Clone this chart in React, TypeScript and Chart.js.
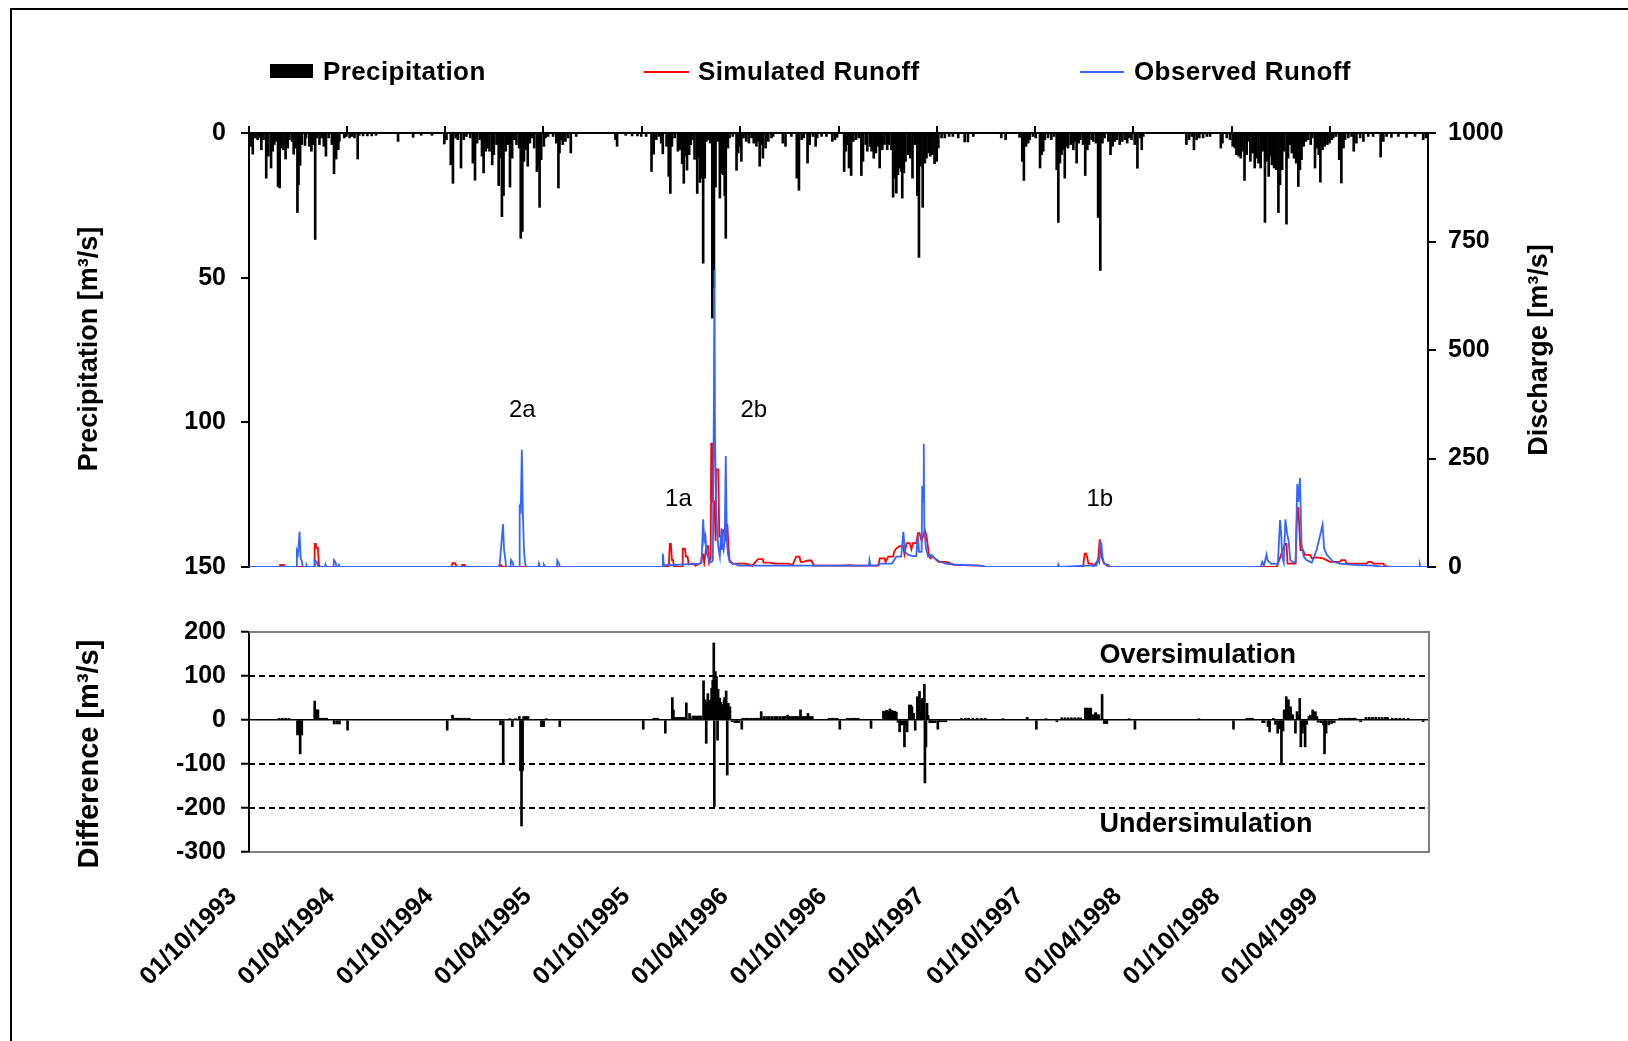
import React, { useEffect, useRef } from "react";
import { Chart, registerables } from "chart.js";
Chart.register(...registerables);

// ---------- data (day index counted from 01/10/1993) ----------
const DAYS_TOTAL = 2191;
const dateTickDays = [0, 182, 365, 547, 730, 913, 1096, 1278, 1461, 1643, 1826, 2008];
const dateTickLabels = [
  "01/10/1993", "01/04/1994", "01/10/1994", "01/04/1995", "01/10/1995", "01/04/1996",
  "01/10/1996", "01/04/1997", "01/10/1997", "01/04/1998", "01/10/1998", "01/04/1999",
];
const precipMax = 150;
const dischargeMax = 1000;
const differenceMin = -300;
const differenceMax = 200;
const thresholdLines = [100, -100, -200];

// precipitation [day, value]
const precipitation: [number, number][] = [
  [3,4.6],[7,7.3],[12,1.7],[16,2.3],[21,1.7],[23,5.8],[27,2.3],[32,15.6],[36,8],[41,12.1],[44,6.3],[47,4],[50,2.9],[54,18.5],[57,19],[60,5.2],[64,5.8],[68,9],[72,5.2],[75,2.3],[80,2.9],[83,7.3],[86,5.2],[90,27.5],[92,17.9],[95,11.2],[98,4],[104,4.3],[106,1.7],[112,4.6],[116,6.3],[119,4],[123,36.8],[126,1.7],[131,4],[135,1.7],[139,4.6],[143,8],[148,1.7],[154,4],[158,14.1],[162,9],[166,5.8],[168,2.9],[177,1.7],[181,1.2],[187,1.7],[191,1.2],[196,1.7],[202,9],[205,0.8],[212,1],[220,1],[228,1],[236,0.8],[277,2.9],[305,1.5],[320,0.8],[340,0.8],
  [363,3.8],[367,2.3],[375,11],[379,17.4],[384,1.7],[388,2.3],[394,12.1],[399,2.3],[404,1.2],[411,1.7],[416,10.4],[420,16.3],[424,3.5],[429,2.3],[433,8],[436,13.8],[440,6.3],[443,5.2],[447,6.3],[452,11],[455,7.5],[460,4],[464,18.2],[467,8.7],[470,28.9],[473,21.6],[477,6.3],[481,4],[485,18.7],[489,8.7],[493,2.3],[497,4],[502,5.2],[505,36.4],[508,34],[511,9.8],[514,5.8],[518,11.5],[522,3.5],[526,1.7],[530,5.2],[535,13.3],[538,11.5],[540,25.7],[543,9.2],[548,4.6],[551,1.7],[556,1.2],[565,1.2],[571,3.5],[575,19],[577,6.9],[580,2.3],[583,4],[588,2.9],[593,1.7],[598,6.9],[608,1.2],[681,2.3],[684,4.6],[700,0.8],[712,1],[722,1],
  [729,1.2],[738,1.2],[748,13.3],[752,7.3],[757,2.3],[762,1.2],[766,3.5],[769,7.2],[776,4.6],[780,15],[783,20.9],[786,4.6],[791,1.7],[797,6.3],[801,5.8],[805,10.6],[808,17.4],[811,8],[814,12.8],[818,7.5],[821,4],[824,2.3],[828,9.1],[833,20.9],[835,8.7],[838,17.1],[841,15.6],[844,45],[847,15.6],[850,2.9],[853,2.3],[857,3.5],[861,64],[864,53.7],[867,18.7],[871,2.9],[875,22.5],[878,13.8],[881,14.4],[884,21.6],[886,36.4],[890,5.2],[893,1.7],[899,1.2],[906,12.9],[909,6.9],[912,4.6],[915,9.8],[919,1.7],[924,2.9],[929,3.5],[934,1.7],[938,3.5],[943,4.6],[946,2.9],[949,11.5],[952,4],[955,8.7],[960,5.2],[965,2.9],[971,1.7],[974,1.2],[992,3.5],[997,4.6],[1008,1.2],[1018,15.6],[1022,19.8],[1027,2.3],[1031,1.7],[1038,10.4],[1042,4],[1048,1.2],[1053,4.6],[1056,1.7],[1064,1.2],[1073,1.2],[1084,2.9],[1089,2.3],[1093,1.5],
  [1106,13.3],[1109,6.3],[1112,4],[1115,12.1],[1119,14.7],[1123,2.9],[1128,2.3],[1133,1.7],[1138,14.7],[1141,9.8],[1146,4],[1149,6.3],[1154,4.6],[1157,6.3],[1161,8.7],[1165,6.9],[1169,4.6],[1172,12.1],[1177,5.8],[1181,4],[1186,5.8],[1189,4],[1194,5.8],[1197,22.2],[1200,15.6],[1203,20.8],[1206,14.4],[1209,12.1],[1212,13.3],[1214,22.5],[1217,13.8],[1220,9.8],[1225,7.5],[1229,8.7],[1233,15.6],[1237,4],[1242,21.6],[1245,43],[1248,11.5],[1252,25.7],[1256,10.4],[1259,8.7],[1263,6.9],[1266,8],[1270,7.5],[1274,10.6],[1278,9.8],[1281,5.2],[1287,1.7],[1293,1.7],[1301,1.2],[1308,1.2],[1318,1.7],[1330,3.1],[1336,3.1],[1346,1.2],[1398,1.7],[1406,2.3],[1432,1.5],
  [1437,9.8],[1440,16.4],[1444,4.6],[1448,3.5],[1451,2.3],[1457,1.2],[1462,1.7],[1470,12.1],[1473,7.5],[1476,6.3],[1479,2.3],[1485,1.7],[1491,2.3],[1496,1.2],[1501,12.7],[1504,30.9],[1507,10.4],[1510,7.5],[1513,5.8],[1516,15.6],[1519,4.6],[1522,5.2],[1527,4],[1532,5.8],[1535,2.9],[1538,10.4],[1542,3.5],[1545,2.3],[1550,4],[1554,14.7],[1558,5.8],[1561,4],[1566,2.3],[1569,2.9],[1574,3.5],[1578,29.2],[1582,47.5],[1586,3.5],[1590,1.7],[1597,2.9],[1601,7.5],[1605,4.6],[1609,2.9],[1613,2.3],[1618,4],[1623,2.9],[1628,2.3],[1632,3.5],[1636,1.7],[1640,2.3],[1646,4],[1651,12.2],[1656,1.7],[1659,5.8],[1662,1.2],
  [1742,4],[1747,2.3],[1752,1.2],[1756,5.8],[1761,2.3],[1766,1.7],[1773,1.7],[1780,1.2],[1786,1.2],[1806,5.2],[1809,3.5],[1817,1.7],[1823,2.3],[1828,4.6],[1832,5.2],[1835,7.5],[1839,8],[1843,8.7],[1846,6.3],[1850,16.4],[1854,7.5],[1857,2.9],[1861,9.8],[1865,6.9],[1869,12.1],[1872,8.7],[1876,10.4],[1880,12.1],[1884,6.3],[1888,30.9],[1891,9.8],[1895,15],[1898,8],[1901,11],[1905,12.1],[1909,12.7],[1913,27.5],[1916,17.9],[1920,12.7],[1923,6.3],[1928,31.5],[1931,8.7],[1934,4],[1938,6.9],[1942,8.7],[1946,10.4],[1950,18.5],[1953,12.7],[1956,9.2],[1960,4.6],[1964,2.9],[1968,2.3],[1973,4],[1976,1.7],[1981,12.1],[1984,5.2],[1988,7.5],[1991,17],[1995,5.8],[1999,4.6],[2004,4],[2008,3.5],[2012,2.3],[2015,1.7],[2020,1.2],[2026,9.2],[2030,17.3],[2034,5.2],[2037,2.3],[2043,1.7],[2049,1.2],[2053,6.3],[2058,3.5],[2065,1.7],[2071,2.9],[2080,1.2],[2089,1.2],[2103,8.3],[2108,2.9],[2114,1.2],[2123,1.5],[2136,1.2],[2151,1.5],[2167,1.2],[2182,2.3],[2187,1.7],
];

// observed runoff [day, m3/s]
const observedRunoff: [number, number][] = [
  [0,0],[88,0],[89,37],[91,30],[94,81],[96,20],[98,14],[100,0],[106,0],[107,5],[109,0],[121,0],[122,16],[126,12],[128,0],[141,0],[142,5],[143,0],[157,0],[158,16],[161,10],[163,0],[166,0],[167,8],[168,0],
  [464,0],[466,8],[469,53],[472,99],[474,40],[476,21],[478,0],[486,0],[487,16],[490,10],[492,0],[502,0],[503,137],[505,130],[507,270],[509,120],[511,37],[513,10],[515,0],[538,0],[539,8],[541,0],[547,0],[548,5],[550,0],[572,0],[573,15],[576,8],[578,0],
  [768,0],[769,31],[771,3],[782,6],[785,4],[808,6],[838,8],[841,10],[844,110],[846,60],[848,72],[851,30],[853,24],[856,10],[860,12],[862,15],[864,400],[865,685],[866,300],[868,151],[870,80],[872,48],[875,24],[878,89],[880,50],[882,39],[884,60],[886,256],[888,60],[890,31],[893,12],[899,7],[905,7],[909,3],[960,3],[1050,3],[1120,3],[1152,3],[1153,16],[1155,3],
  [1165,3],[1172,8],[1195,8],[1203,24],[1212,24],[1216,81],[1219,35],[1225,28],[1234,25],[1240,25],[1243,74],[1245,35],[1250,35],[1251,187],[1253,150],[1254,284],[1255,85],[1258,43],[1262,24],[1268,28],[1274,20],[1284,12],[1296,7],[1321,5],[1358,3],[1370,0],
  [1503,0],[1504,6],[1506,0],[1553,3],[1575,3],[1577,16],[1580,10],[1582,55],[1584,55],[1586,24],[1589,8],[1597,5],[1600,0],
  [1880,0],[1883,12],[1886,3],[1891,29],[1893,15],[1900,7],[1912,7],[1916,108],[1918,80],[1920,24],[1923,10],[1926,110],[1929,78],[1932,60],[1935,16],[1941,10],[1945,12],[1948,191],[1950,150],[1953,205],[1956,53],[1960,24],[1965,16],[1975,10],[1984,39],[1990,70],[1995,97],[1998,43],[2003,28],[2009,20],[2015,12],[2027,8],[2052,5],[2089,3],[2110,0],[2175,0],[2176,5],[2177,0],[2191,0],
];

// simulated runoff [day, m3/s]
const simulatedRunoff: [number, number][] = [
  [0,0],[57,0],[58,5],[65,5],[66,0],[121,0],[122,53],[124,53],[125,44],[128,44],[130,4],[133,0],
  [377,0],[378,9],[383,9],[385,3],[386,0],[395,0],[396,5],[401,5],[402,0],[465,0],[466,4],[469,4],[470,0],
  [780,0],[782,53],[784,53],[786,16],[788,16],[790,0],[805,0],[806,42],[810,42],[812,24],[815,24],[817,6],[824,8],[830,3],[840,10],[842,29],[844,29],[846,10],[850,48],[853,48],[855,10],[858,20],[859,284],[861,284],[862,151],[865,151],[867,60],[868,225],[872,225],[874,70],[877,70],[879,40],[881,85],[884,85],[886,60],[887,97],[889,97],[891,47],[893,16],[899,8],[912,8],[915,8],[923,8],[935,3],[946,18],[955,18],[956,10],[968,10],[977,8],[986,8],[992,8],[1002,8],[1010,4],[1017,24],[1023,24],[1025,12],[1030,12],[1039,15],[1045,15],[1050,3],[1100,3],[1119,4],[1122,3],
  [1170,3],[1172,20],[1181,20],[1183,12],[1188,24],[1197,24],[1199,35],[1203,43],[1209,48],[1216,48],[1218,30],[1222,55],[1228,55],[1231,41],[1234,55],[1240,55],[1243,78],[1246,78],[1250,60],[1256,85],[1259,72],[1263,33],[1266,20],[1271,24],[1281,12],[1296,12],[1310,5],[1360,3],[1370,0],
  [1550,0],[1553,31],[1556,31],[1558,20],[1560,8],[1566,8],[1570,2],[1578,16],[1581,64],[1584,24],[1589,8],[1595,3],[1600,0],
  [1910,0],[1925,53],[1928,53],[1930,8],[1945,8],[1947,101],[1950,138],[1954,39],[1959,39],[1962,28],[1972,28],[1975,20],[1984,22],[1996,20],[2009,12],[2027,12],[2030,16],[2037,16],[2040,8],[2077,8],[2080,12],[2086,12],[2089,8],[2108,8],[2110,3],[2120,0],[2191,0],
];

// difference simulated - observed [day, m3/s]
const difference: [number, number][] = [
  [56,4],[62,4],[68,4],[74,4],[90,-34],[93,-30],[95,-77],[98,-34],[122,43],[125,23],[128,23],[131,4],[135,4],[140,4],[144,4],[158,-9],[163,-9],[168,-9],[183,-23],
  [368,-23],[378,11],[382,4],[386,4],[390,4],[395,4],[400,4],[405,4],[409,4],[467,-11],[472,-97],[484,3],[489,-15],[495,3],[502,8],[504,-115],[506,-241],[508,-115],[510,8],[514,8],[518,8],[543,-15],[547,-15],[552,3],[577,-15],
  [732,-21],[752,4],[756,4],[759,4],[773,-30],[786,51],[788,23],[790,6],[794,6],[798,6],[802,6],[806,6],[810,6],[812,39],[818,15],[824,9],[828,9],[832,9],[836,9],[839,9],[844,89],[847,46],[849,-53],[851,40],[852,60],[854,30],[856,45],[859,72],[861,90],[863,175],[864,-197],[866,110],[868,99],[870,-46],[871,70],[873,46],[874,50],[876,40],[878,19],[880,35],[882,45],[883,51],[886,66],[888,-125],[890,38],[893,30],[897,-4],[902,-6],[906,-6],[909,-6],[915,-21],[917,4],[922,4],[927,4],[932,4],[937,4],[942,4],[946,4],[951,19],[956,8],[961,8],[966,8],[971,8],[976,8],[981,8],[986,8],[991,8],[995,8],[1000,11],[1004,8],[1008,8],[1012,8],[1016,8],[1020,8],[1024,23],[1028,8],[1032,8],[1035,8],[1038,15],[1042,8],[1046,8],
  [1077,4],[1082,4],[1087,4],[1092,4],[1097,-21],[1111,4],[1116,4],[1121,4],[1126,4],[1131,4],[1155,-19],
  [1178,20],[1181,20],[1184,22],[1187,20],[1190,25],[1193,22],[1196,20],[1199,20],[1202,18],[1205,-5],[1208,-27],[1210,-11],[1213,-11],[1217,-61],[1219,-11],[1222,-27],[1226,34],[1229,34],[1231,30],[1234,15],[1237,-23],[1241,53],[1243,30],[1245,65],[1247,20],[1249,49],[1251,40],[1253,30],[1254,81],[1255,-143],[1257,-61],[1259,38],[1261,10],[1264,-6],[1267,-6],[1270,-6],[1274,-6],[1279,-21],[1282,-4],[1286,-4],[1290,-4],[1294,-4],
  [1323,4],[1330,4],[1336,4],[1344,4],[1352,4],[1360,4],[1367,4],[1400,3],[1445,6],[1462,-21],[1480,3],[1500,-4],[1509,5],[1515,5],[1521,5],[1527,5],[1533,5],[1539,5],[1544,5],[1553,27],[1556,27],[1559,27],[1563,27],[1566,12],[1569,12],[1572,17],[1575,12],[1578,12],[1584,58],[1588,-8],[1591,-8],[1593,-8],[1634,3],[1645,-21],[1764,3],[1828,-21],[1853,4],[1858,4],[1863,4],
  [1882,-6],[1885,-6],[1892,-15],[1895,-27],[1902,4],[1906,-10],[1910,-30],[1914,-20],[1917,-102],[1920,-25],[1922,23],[1926,53],[1930,46],[1934,30],[1938,12],[1943,-30],[1946,19],[1948,10],[1951,49],[1953,-61],[1956,-30],[1958,-15],[1961,-61],[1964,-10],[1968,8],[1971,11],[1975,23],[1978,8],[1980,19],[1983,8],[1985,-5],[1990,-6],[1995,-11],[1997,-77],[2000,-30],[2005,-11],[2010,-8],[2015,-6],[2025,4],[2030,4],[2035,4],[2040,4],[2045,4],[2050,4],[2054,4],[2064,-4],[2074,6],[2080,6],[2086,6],[2092,6],[2098,6],[2104,6],[2110,6],[2114,6],[2123,4],[2130,4],[2137,4],[2144,4],[2152,4],[2180,-4],
];

// event labels [text, day, discharge]
const eventLabels: [string, number, number][] = [
  ["2a", 508, 362], ["2b", 938, 362], ["1a", 798, 155], ["1b", 1581, 155],
];
// region labels in difference panel [text, day, difference]
const regionLabels: [string, number, number][] = [
  ["Oversimulation", 1579, 146], ["Undersimulation", 1579, -237],
];

const FONT = '"Liberation Sans", Arial, Helvetica, sans-serif';
const BLUE = "#3366ff";
const RED = "#ff0000";

const overlayPlugin = {
  id: "overlays",
  beforeDatasetsDraw(chart: any, _a: any, opts: any) {
    const { ctx, chartArea, scales } = chart;
    if (opts.thresholds) {
      ctx.save();
      ctx.strokeStyle = "#000";
      ctx.lineWidth = 2;
      ctx.setLineDash([6, 4]);
      for (const v of opts.thresholds) {
        const y = Math.round(scales.y.getPixelForValue(v));
        ctx.beginPath();
        ctx.moveTo(chartArea.left, y);
        ctx.lineTo(chartArea.right, y);
        ctx.stroke();
      }
      ctx.restore();
    }
  },
  afterDatasetsDraw(chart: any, _a: any, opts: any) {
    const { ctx, chartArea, scales } = chart;
    ctx.save();
    if (opts.frame) {
      ctx.strokeStyle = "#808080";
      ctx.lineWidth = 2;
      ctx.beginPath();
      ctx.moveTo(chartArea.left, chartArea.top);
      ctx.lineTo(chartArea.right, chartArea.top);
      ctx.lineTo(chartArea.right, chartArea.bottom);
      ctx.stroke();
    }
    if (opts.texts) {
      ctx.fillStyle = "#000";
      ctx.font = opts.font;
      ctx.textAlign = opts.align;
      ctx.textBaseline = "middle";
      for (const [t, d, v] of opts.texts) {
        ctx.fillText(t, scales.x.getPixelForValue(d), scales[opts.yAxis].getPixelForValue(v));
      }
    }
    ctx.restore();
  },
};

const toXY = (arr: [number, number][]) => arr.map(([x, y]) => ({ x, y }));
const tickFont = { family: FONT, size: 25, weight: "bold" };

function TopChart() {
  const ref = useRef<HTMLCanvasElement>(null);
  useEffect(() => {
    const chart = new Chart(ref.current!, {
      type: "bar",
      data: {
        datasets: [
          { type: "bar", label: "Precipitation", data: toXY(precipitation) as any, backgroundColor: "#000", barThickness: 2, xAxisID: "x", yAxisID: "yP", order: 2 },
          { type: "line", label: "Observed Runoff", data: toXY(observedRunoff) as any, borderColor: BLUE, borderWidth: 1.8, pointRadius: 0, tension: 0, borderJoinStyle: "miter", xAxisID: "x", yAxisID: "yQ", order: 0 },
          { type: "line", label: "Simulated Runoff", data: toXY(simulatedRunoff) as any, borderColor: RED, borderWidth: 1.8, pointRadius: 0, tension: 0, borderJoinStyle: "miter", xAxisID: "x", yAxisID: "yQ", order: 1 },
        ],
      },
      options: {
        animation: false,
        responsive: false,
        events: [],
        layout: { padding: { left: 0, right: 0, top: 126, bottom: 33 } },
        plugins: {
          legend: { display: false },
          tooltip: { enabled: false },
          overlays: { texts: eventLabels, font: `24px ${FONT}`, align: "center", yAxis: "yQ" },
        } as any,
        scales: {
          x: {
            type: "linear", position: "top", min: 0, max: DAYS_TOTAL, offset: false,
            afterBuildTicks: (s: any) => { s.ticks = dateTickDays.map((v) => ({ value: v })); },
            afterFit: (s: any) => { s.height = 7; },
            ticks: { display: false },
            grid: { drawOnChartArea: false, drawTicks: true, tickLength: 7, color: "#000", lineWidth: 2, offset: false },
            border: { display: true, color: "#000", width: 2 },
          },
          yP: {
            type: "linear", position: "left", reverse: true, min: 0, max: precipMax,
            ticks: { stepSize: 50, color: "#000", font: tickFont, padding: 15, callback: (v: any) => String(v) },
            afterFit: (s: any) => { s.width = 249; },
            grid: { drawOnChartArea: false, tickLength: 8, color: "#000", lineWidth: 2 },
            border: { display: true, color: "#000", width: 2 },
          },
          yQ: {
            type: "linear", position: "right", min: 0, max: dischargeMax,
            ticks: { stepSize: 250, color: "#000", font: tickFont, padding: 12, callback: (v: any) => String(v) },
            afterFit: (s: any) => { s.width = 200; },
            grid: { drawOnChartArea: false, tickLength: 8, color: "#000", lineWidth: 2 },
            border: { display: true, color: "#000", width: 2 },
          },
        },
      } as any,
      plugins: [overlayPlugin as any],
    });
    return () => chart.destroy();
  }, []);
  return <canvas ref={ref} width={1628} height={600} style={{ position: "absolute", left: 0, top: 0, width: 1628, height: 600 }} />;
}

function BottomChart() {
  const ref = useRef<HTMLCanvasElement>(null);
  useEffect(() => {
    const chart = new Chart(ref.current!, {
      type: "bar",
      data: {
        datasets: [
          { type: "bar", label: "Difference", data: toXY(difference) as any, backgroundColor: "#000", barThickness: 2, xAxisID: "x", yAxisID: "y" },
        ],
      },
      options: {
        animation: false,
        responsive: false,
        events: [],
        layout: { padding: { left: 0, right: 199, top: 32, bottom: 0 } },
        plugins: {
          legend: { display: false },
          tooltip: { enabled: false },
          overlays: { frame: true, thresholds: thresholdLines, texts: regionLabels, font: `bold 27px ${FONT}`, align: "left", yAxis: "y" },
        } as any,
        scales: {
          x: {
            type: "linear", position: "bottom", min: 0, max: DAYS_TOTAL, offset: false,
            afterBuildTicks: (s: any) => { s.ticks = dateTickDays.map((v) => ({ value: v })); },
            afterFit: (s: any) => { s.height = 189; },
            ticks: {
              autoSkip: false, minRotation: 45, maxRotation: 45, padding: 30, labelOffset: -16,
              color: "#000", font: { family: FONT, size: 25, weight: "bold" },
              callback: (v: any) => { const i = dateTickDays.indexOf(Number(v)); return i >= 0 ? dateTickLabels[i] : ""; },
            },
            grid: { display: false, drawTicks: false, offset: false },
            border: { display: true, color: "#808080", width: 2 },
          },
          y: {
            type: "linear", position: "left", min: differenceMin, max: differenceMax,
            ticks: { stepSize: 100, color: "#000", font: tickFont, padding: 15 },
            afterFit: (s: any) => { s.width = 249; },
            grid: {
              drawOnChartArea: true, tickLength: 8,
              color: (c: any) => (c.tick && c.tick.value === 0 ? "#000" : "rgba(0,0,0,0)"),
              lineWidth: 1.5, tickColor: "#000", tickWidth: 2,
            },
            border: { display: true, color: "#000", width: 2 },
          },
        },
      } as any,
      plugins: [overlayPlugin as any],
    });
    return () => chart.destroy();
  }, []);
  return <canvas ref={ref} width={1628} height={441} style={{ position: "absolute", left: 0, top: 600, width: 1628, height: 441 }} />;
}

const legendText: React.CSSProperties = { position: "absolute", top: 58, fontFamily: FONT, fontWeight: "bold", fontSize: 26, lineHeight: "26px", letterSpacing: 0.4, color: "#000", whiteSpace: "nowrap" };
const axisTitle = (cx: number, cy: number, size: number): React.CSSProperties => ({
  position: "absolute", left: cx - 200, top: cy - 16, width: 400, height: 32, textAlign: "center",
  fontFamily: FONT, fontWeight: "bold", fontSize: size, lineHeight: "32px", color: "#000",
  transform: "rotate(-90deg)", transformOrigin: "50% 50%", whiteSpace: "nowrap",
});

export default function App() {
  return (
    <div style={{ position: "absolute", left: 0, top: 0, width: 1628, height: 1041, background: "#fff", overflow: "hidden" }}>
      <div style={{ position: "absolute", left: 10, top: 8, right: -10, bottom: -10, borderLeft: "2px solid #000", borderTop: "2px solid #000" }} />
      <TopChart />
      <BottomChart />
      {/* legend */}
      <div style={{ position: "absolute", left: 270, top: 64, width: 43, height: 14, background: "#000" }} />
      <div style={{ ...legendText, left: 323 }}>Precipitation</div>
      <div style={{ position: "absolute", left: 644, top: 71, width: 45, height: 1.5, background: RED }} />
      <div style={{ ...legendText, left: 698 }}>Simulated Runoff</div>
      <div style={{ position: "absolute", left: 1080, top: 71, width: 44, height: 1.5, background: BLUE }} />
      <div style={{ ...legendText, left: 1134 }}>Observed Runoff</div>
      {/* axis titles */}
      <div style={axisTitle(88, 349, 27)}>Precipitation [m³/s]</div>
      <div style={axisTitle(1538, 350, 27)}>Discharge [m³/s]</div>
      <div style={axisTitle(88, 754, 29)}>Difference [m³/s]</div>
    </div>
  );
}
